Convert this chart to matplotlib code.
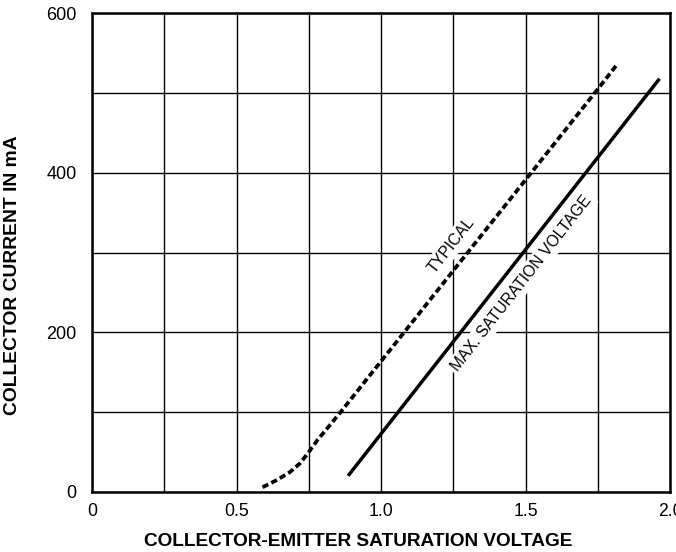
import matplotlib
matplotlib.use("Agg")
import matplotlib.pyplot as plt
from matplotlib.ticker import MultipleLocator, FixedLocator

plt.rcParams['font.family'] = ['Liberation Sans', 'DejaVu Sans']

# Data
typ_v = [0.59, 0.64, 0.685, 0.72, 0.75, 0.78, 0.86, 1.08, 1.30, 1.52, 1.74, 1.82]
typ_i = [6, 15, 25, 36, 50, 65, 100, 200, 300, 400, 500, 537]
max_v = [0.89, 1.96]
max_i = [22, 516]

x_ticks = [0, 0.5, 1.0, 1.5, 2.0]
x_tick_labels = ["0", "0.5", "1.0", "1.5", "2.0"]
y_ticks = [0, 200, 400, 600]
y_tick_labels = ["0", "200", "400", "600"]

fig = plt.figure(figsize=(6.76, 5.52), dpi=100)
ax = fig.add_axes([92/676, 60/552, 578/676, 479/552])
ax.set_xlim(0, 2.0)
ax.set_ylim(0, 600)

ax.xaxis.set_major_locator(FixedLocator(x_ticks))
ax.set_xticklabels(x_tick_labels)
ax.yaxis.set_major_locator(FixedLocator(y_ticks))
ax.set_yticklabels(y_tick_labels)
ax.xaxis.set_minor_locator(MultipleLocator(0.25))
ax.yaxis.set_minor_locator(MultipleLocator(100))
ax.tick_params(which='both', length=0)
ax.tick_params(axis='x', pad=8, labelsize=12.7)
ax.tick_params(axis='y', pad=11, labelsize=13)
ax.grid(which='both', color='black', linewidth=1.0, zorder=0)
ax.set_axisbelow(True)
for s in ax.spines.values():
    s.set_linewidth(1.8)

ax.plot(typ_v, typ_i, color='black', linewidth=2.7, linestyle=(0, (1.7, 0.9)), zorder=4)
ax.plot(max_v, max_i, color='black', linewidth=2.5, zorder=4)

box = dict(facecolor='white', edgecolor='none', pad=2)
ax.text(1.244, 309, "TYPICAL", rotation=52, ha='center', va='center',
        fontsize=11.4, bbox=box, zorder=3, rotation_mode='anchor')
ax.text(1.486, 261, "MAX. SATURATION VOLTAGE", rotation=52, ha='center', va='center',
        fontsize=11.3, bbox=box, zorder=3, rotation_mode='anchor')

fig.text(358.5/676, 1 - 541/552, "COLLECTOR-EMITTER SATURATION VOLTAGE",
         ha='center', va='center', fontsize=13.7, fontweight='bold')
fig.text(13/676, 1 - 275/552, "COLLECTOR CURRENT IN mA", rotation=90,
         ha='center', va='center', fontsize=13.9, fontweight='bold')

fig.savefig("out.png", dpi=100)
